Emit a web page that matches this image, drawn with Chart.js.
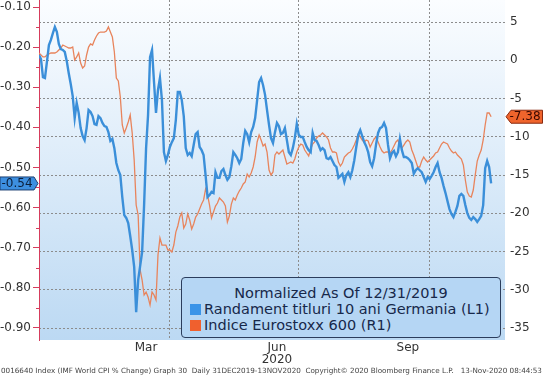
<!DOCTYPE html>
<html>
<head>
<meta charset="utf-8">
<script src="https://cdn.jsdelivr.net/npm/chart.js@4/dist/chart.umd.min.js"></script>
<style>
  html, body { margin: 0; padding: 0; background: #fff; }
  #wrap { position: relative; width: 543px; height: 377px; overflow: hidden; }
  #legend {
    position: absolute; left: 181px; top: 277px; width: 320px; height: 61px;
    background: #b5d6f4; border: 1px solid #2b3d5c; border-radius: 4px;
    font-family: "DejaVu Sans", sans-serif; font-size: 14.5px; line-height: 16px; color: #17284a;
    padding-top: 7px; box-sizing: border-box;
  }
  #legend .title { text-align: center; }
  #legend .row { padding-left: 8px; white-space: nowrap; }
  #legend .sq { display: inline-block; width: 11px; height: 11px; margin-right: 3px; vertical-align: -1px; }
  #footer {
    position: absolute; left: 1px; top: 366px; white-space: nowrap;
    font-family: "DejaVu Sans", sans-serif; font-size: 7.4px; color: #444;
  }
</style>
</head>
<body>
<div id="wrap">
  <canvas id="chart" width="543" height="377"></canvas>
  <div id="legend">
    <div class="title">Normalized As Of 12/31/2019</div>
    <div class="row"><span class="sq" style="background:#3a94e8"></span>Randament titluri 10 ani Germania (L1)</div>
    <div class="row"><span class="sq" style="background:#f0602e"></span>Indice Eurostoxx 600 (R1)</div>
  </div>
  <div id="footer">0016640 Index (IMF World CPI % Change) Graph 30 &nbsp;Daily 31DEC2019-13NOV2020 &nbsp;Copyright© 2020 Bloomberg Finance L.P. &nbsp; 13-Nov-2020 08:44:53</div>
</div>
<script>
// trading days 31 Dec 2019 .. 13 Nov 2020, one value per weekday (index 0..228)

// Randament titluri 10 ani Germania (%), left axis
const bundYield = [
  -0.220, -0.230, -0.275, -0.277, -0.237, -0.195, -0.182, -0.165, -0.150, -0.162,
  -0.192, -0.205, -0.207, -0.212, -0.235, -0.265, -0.292, -0.322, -0.377, -0.339,
  -0.364, -0.402, -0.422, -0.432, -0.402, -0.357, -0.362, -0.372, -0.392, -0.394,
  -0.372, -0.377, -0.389, -0.397, -0.399, -0.412, -0.434, -0.429, -0.452, -0.489,
  -0.507, -0.519, -0.574, -0.619, -0.626, -0.639, -0.671, -0.706, -0.748, -0.861,
  -0.781, -0.746, -0.711, -0.594, -0.452, -0.369, -0.225, -0.207, -0.287, -0.364,
  -0.307, -0.277, -0.332, -0.462, -0.484, -0.469, -0.449, -0.437, -0.427, -0.382,
  -0.312, -0.312, -0.332, -0.372, -0.452, -0.469, -0.464, -0.472, -0.444, -0.417,
  -0.412, -0.449, -0.457, -0.469, -0.519, -0.574, -0.569, -0.561, -0.564, -0.512,
  -0.526, -0.526, -0.509, -0.504, -0.519, -0.531, -0.524, -0.497, -0.462, -0.469,
  -0.477, -0.489, -0.479, -0.439, -0.409, -0.417, -0.437, -0.412, -0.399, -0.377,
  -0.332, -0.287, -0.277, -0.295, -0.319, -0.357, -0.394, -0.427, -0.439, -0.412,
  -0.389, -0.397, -0.417, -0.414, -0.402, -0.432, -0.462, -0.469, -0.452, -0.427,
  -0.392, -0.419, -0.424, -0.424, -0.437, -0.449, -0.457, -0.462, -0.414, -0.432,
  -0.434, -0.444, -0.457, -0.452, -0.457, -0.477, -0.479, -0.474, -0.484, -0.494,
  -0.499, -0.526, -0.521, -0.516, -0.536, -0.519, -0.512, -0.524, -0.507, -0.482,
  -0.449, -0.419, -0.407, -0.422, -0.437, -0.447, -0.462, -0.487, -0.497, -0.477,
  -0.442, -0.414, -0.402, -0.399, -0.389, -0.402, -0.444, -0.477, -0.464, -0.459,
  -0.472, -0.462, -0.429, -0.457, -0.474, -0.474, -0.477, -0.482, -0.489, -0.516,
  -0.507, -0.502, -0.507, -0.512, -0.524, -0.536, -0.524, -0.529, -0.521, -0.512,
  -0.499, -0.489, -0.512, -0.526, -0.546, -0.564, -0.584, -0.604, -0.616, -0.624,
  -0.611, -0.596, -0.571, -0.566, -0.571, -0.594, -0.614, -0.626, -0.631, -0.624,
  -0.629, -0.636, -0.629, -0.621, -0.594, -0.502, -0.484, -0.499, -0.540
];

// Indice Eurostoxx 600 (% change since 31 Dec 2019), right axis
const stoxxChange = [
  0.95, 0.69, 0.43, 0.43, 0.69, 0.82, 0.95, 0.95, 0.95, 1.08,
  1.34, 1.60, 1.99, 1.86, 1.73, 1.60, 1.60, 1.73, 0.03, 0.43,
  0.95, -0.36, -1.01, -0.75, 0.69, 1.73, 2.13, 1.99, 2.65, 3.17,
  3.56, 3.69, 3.69, 3.69, 3.82, 4.35, 3.69, 3.04, 1.08, -2.32,
  -2.71, -4.80, -8.46, -9.51, -8.85, -8.07, -7.15, -9.51, -13.04, -18.92,
  -20.22, -27.41, -28.72, -30.68, -30.29, -30.94, -31.99, -30.29, -30.68, -31.33,
  -25.45, -23.23, -24.15, -24.15, -24.15, -24.80, -24.80, -25.06, -24.15, -22.45,
  -21.66, -20.49, -19.96, -21.92, -21.40, -20.09, -20.88, -22.05, -21.40, -20.49,
  -20.09, -19.44, -18.79, -18.26, -16.83, -17.61, -18.92, -20.62, -19.83, -19.05,
  -18.66, -18.00, -18.26, -18.53, -19.05, -21.14, -20.36, -18.79, -18.00, -18.26,
  -17.61, -17.09, -16.70, -16.17, -15.91, -14.87, -15.26, -14.74, -13.95, -12.64,
  -10.68, -9.77, -10.42, -11.21, -10.95, -11.99, -14.34, -15.00, -14.60, -12.38,
  -11.99, -12.25, -11.99, -11.73, -12.64, -13.56, -13.43, -13.30, -13.43, -12.91,
  -11.99, -11.34, -10.95, -11.08, -11.73, -12.12, -12.51, -11.60, -10.95, -10.68,
  -10.16, -9.90, -9.77, -9.51, -9.77, -10.03, -10.42, -11.47, -11.99, -11.99,
  -12.12, -13.30, -13.82, -13.43, -12.64, -12.38, -12.12, -11.99, -11.60, -11.08,
  -10.42, -9.64, -10.03, -10.42, -10.68, -10.42, -10.55, -11.34, -10.81, -10.29,
  -10.03, -10.68, -11.34, -11.86, -12.12, -11.99, -11.99, -12.12, -11.73, -11.21,
  -10.68, -10.42, -11.08, -11.47, -11.08, -10.68, -10.42, -10.68, -11.73, -12.38,
  -13.17, -13.95, -13.95, -13.17, -12.64, -13.04, -13.30, -13.04, -12.77, -12.51,
  -12.12, -11.99, -11.47, -10.95, -10.68, -10.81, -10.95, -11.47, -11.86, -12.12,
  -11.99, -12.38, -12.64, -12.91, -13.69, -15.65, -17.22, -17.74, -17.87, -16.96,
  -14.99, -13.17, -12.38, -11.73, -10.42, -8.46, -6.89, -6.89, -7.38
];

// x axis: month labels sit mid-month, dotted grid lines at quarter starts (trading-day index)
const monthLabels = ["Mar", ["Jun", "2020"], "Sep"];
const monthLabelIdx = [54, 120, 186];
const quarterStartIdx = [66, 131, 197];

const leftTicks = [-0.9, -0.8, -0.7, -0.6, -0.5, -0.4, -0.3, -0.2, -0.1];
const rightTicks = [-35, -30, -25, -20, -15, -10, -5, 0, 5];

const blue = "#3b8fd9";
const orange = "#e8845c";
const axisRed = "#d63c5c";
const tickFont = { family: "DejaVu Sans", size: 12, lineHeight: 1.0 };

const noPad = s => { s.paddingTop = 0; s.paddingBottom = 0; s.paddingLeft = 0; s.paddingRight = 0; };

// plot background gradient + minor ticks + last-value tags
const decorations = {
    id: "decorations",
    beforeDraw(chart) {
        const { ctx, chartArea: a } = chart;
        const g = ctx.createLinearGradient(0, a.top, 0, a.bottom);
        g.addColorStop(0, "#fbfdff");
        g.addColorStop(1, "#bcd9f3");
        ctx.save();
        ctx.fillStyle = g;
        ctx.fillRect(a.left, a.top, a.right - a.left, a.bottom - a.top);
        ctx.restore();
    },
    afterDraw(chart) {
        const { ctx, chartArea: a } = chart;
        const yl = chart.scales.y;
        const yr = chart.scales.y1;
        ctx.save();
        // minor ticks on left axis
        ctx.strokeStyle = axisRed;
        ctx.lineWidth = 1;
        for (let i = 0; i < leftTicks.length - 1; i++) {
            const py = Math.round(yl.getPixelForValue(leftTicks[i] + 0.05)) + 0.5;
            ctx.beginPath();
            ctx.moveTo(a.left - 3, py);
            ctx.lineTo(a.left, py);
            ctx.stroke();
        }
        // last value tags
        ctx.font = "12px 'DejaVu Sans'";
        ctx.textBaseline = "middle";
        ctx.textAlign = "center";

        const lb = bundYield[bundYield.length - 1];
        let py = yl.getPixelForValue(lb);
        ctx.beginPath();
        ctx.moveTo(0, py - 6.5);
        ctx.lineTo(a.left - 5, py - 6.5);
        ctx.lineTo(a.left - 1, py);
        ctx.lineTo(a.left - 5, py + 6.5);
        ctx.lineTo(0, py + 6.5);
        ctx.closePath();
        ctx.fillStyle = "#3d8fe0";
        ctx.fill();
        ctx.strokeStyle = "#1c3f70";
        ctx.stroke();
        ctx.fillStyle = "#0b1e3a";
        ctx.fillText(lb.toFixed(2), 17, py + 0.5);

        const ls = stoxxChange[stoxxChange.length - 1];
        py = yr.getPixelForValue(ls);
        ctx.beginPath();
        ctx.moveTo(a.right + 1, py);
        ctx.lineTo(a.right + 6, py - 6.5);
        ctx.lineTo(542.5, py - 6.5);
        ctx.lineTo(542.5, py + 6.5);
        ctx.lineTo(a.right + 6, py + 6.5);
        ctx.closePath();
        ctx.fillStyle = "#f0642c";
        ctx.fill();
        ctx.strokeStyle = "#8a2a10";
        ctx.stroke();
        ctx.fillStyle = "#3a0800";
        ctx.fillText(ls.toFixed(2), 525, py + 0.5);
        ctx.restore();
    }
};

const chart = new Chart(document.getElementById("chart"), {
    type: "line",
    data: {
        datasets: [{
            label: "Randament titluri 10 ani Germania (L1)",
            data: bundYield.map((v, i) => ({ x: i, y: v })),
            yAxisID: "y",
            borderColor: blue,
            borderWidth: 2.4,
            pointRadius: 0,
            tension: 0
        }, {
            label: "Indice Eurostoxx 600 (R1)",
            data: stoxxChange.map((v, i) => ({ x: i, y: v })),
            yAxisID: "y1",
            borderColor: orange,
            borderWidth: 1.3,
            pointRadius: 0,
            tension: 0
        }]
    },
    options: {
        responsive: false,
        animation: false,
        layout: { padding: 0 },
        plugins: { legend: { display: false }, tooltip: { enabled: false } },
        scales: {
            x: {
                type: "linear", min: 0, max: 235,
                afterBuildTicks: s => { s.ticks = monthLabelIdx.map(v => ({ value: v })); },
                ticks: {
                    autoSkip: false, maxRotation: 0, padding: 2,
                    color: "#333", font: tickFont,
                    callback: v => monthLabels[monthLabelIdx.indexOf(v)]
                },
                grid: { display: false, drawTicks: false },
                border: { display: false },
                afterFit: s => { noPad(s); s.height = 37; }
            },
            xq: {
                type: "linear", min: 0, max: 235, position: "bottom",
                afterBuildTicks: s => { s.ticks = quarterStartIdx.map(v => ({ value: v })); },
                ticks: { display: false },
                grid: { color: "#8c8c8c", lineWidth: 1, drawTicks: false },
                border: { display: false, dash: [2, 2] },
                afterFit: s => { noPad(s); s.height = 0; }
            },
            y: {
                position: "left", min: -0.9304, max: -0.0825,
                afterBuildTicks: s => { s.ticks = leftTicks.map(v => ({ value: v })); },
                ticks: {
                    padding: 2, color: "#333", font: tickFont,
                    callback: v => v.toFixed(2)
                },
                grid: { drawOnChartArea: false, drawTicks: true, tickLength: 6, tickColor: axisRed },
                border: { display: true, color: axisRed, width: 1 },
                afterFit: s => { noPad(s); s.width = 39; }
            },
            y1: {
                position: "right", min: -36.56, max: 7.876,
                afterBuildTicks: s => { s.ticks = rightTicks.map(v => ({ value: v })); },
                ticks: { padding: 5, color: "#333", font: tickFont },
                grid: { color: "#8c8c8c", lineWidth: 1, drawTicks: false },
                border: { display: false, dash: [2, 2] },
                afterFit: s => { noPad(s); s.width = 38; }
            }
        }
    },
    plugins: [decorations]
});

// stretch footer text to the full width like the original
const footer = document.getElementById("footer");
const fw = footer.getBoundingClientRect().width;
footer.style.fontSize = (7.4 * 541 / fw).toFixed(2) + "px";
</script>
</body>
</html>
